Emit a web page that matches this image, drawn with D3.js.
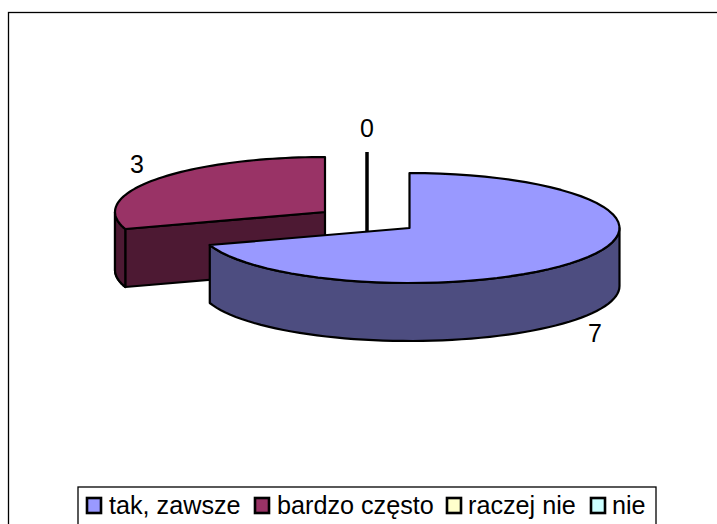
<!DOCTYPE html>
<html><head><meta charset="utf-8">
<style>html,body{margin:0;padding:0;background:#fff}svg{display:block}text{font-family:"Liberation Sans",Arial,sans-serif;fill:#000}</style>
<script src="https://cdn.jsdelivr.net/npm/d3@7"></script></head>
<body><svg id="c" width="717" height="524"></svg>
<script>
const categories = ["tak, zawsze","bardzo często","raczej nie","nie"];
const values = [7,3,0,0];
const topColors = ["#9999ff","#993366","#ffffcc","#ccffff"];
const sideColors = ["#4d4d80","#4d1933","#808066","#668080"];

const svg = d3.select("#c");
svg.append("rect").attr("x",8.5).attr("y",12.5).attr("width",720).attr("height",530).attr("fill","#fff").attr("stroke","#000").attr("stroke-width",1.3);

const rx=210, ry=55, depth=58;
const centers=[[409.5,228],[325,212],[367,207],[367,207]];
const pie=d3.pie().sort(null).value(d=>d)(values);
const sx=d3.scaleLinear().domain([0,1]).range([0,rx]);
const sy=d3.scaleLinear().domain([0,1]).range([0,ry]);
const pt=(c,a,dz=0)=>[c[0]+sx(Math.sin(a)),c[1]-sy(Math.cos(a))+dz];
const arcPts=(c,a0,a1,dz)=>d3.range(0,61).map(i=>pt(c,a0+(a1-a0)*i/60,dz));
const line=d3.line();

const g=svg.append("g").attr("stroke","#000").attr("stroke-width",2.2).attr("stroke-linejoin","round");
const order=[2,3,1,0];
order.forEach(i=>{
  const p=pie[i], c=centers[i];
  const a0=p.startAngle,a1=p.endAngle;
  if(a1-a0<1e-6){
    g.append("path").attr("d",line([[c[0],c[1]-ry],[c[0],c[1]+depth]])).attr("fill","none").attr("stroke-width",3);
    return;
  }
  const wa0=Math.max(a0,Math.PI/2), wa1=Math.min(a1,Math.PI*1.5);
  if(wa1>wa0){
    const top=arcPts(c,wa0,wa1,0), bot=arcPts(c,wa0,wa1,depth).reverse();
    g.append("path").attr("d",line(top.concat(bot))+"Z").attr("fill",sideColors[i]);
  }
  if(i===1){
    const ctr=[c[0],c[1]], rim=pt(c,a0,0);
    g.append("path").attr("d",line([ctr,rim,[rim[0],rim[1]+depth],[ctr[0],ctr[1]+depth]])+"Z").attr("fill",sideColors[i]).attr("stroke-width",2.2);
    const top=arcPts(c,a0,Math.PI*1.5,0), bot=arcPts(c,a0,Math.PI*1.5,depth).reverse();
    g.append("path").attr("d",line(top.concat(bot))+"Z").attr("fill",sideColors[i]);
  }
  const top=arcPts(c,a0,a1,0);
  g.append("path").attr("d",line([[c[0],c[1]],...top])+"Z").attr("fill",topColors[i]);
});

const labelPos=[[595,342],[137,173],[367,137]];
const labels=["7","3","0"];
labels.forEach((t,i)=>svg.append("text").attr("x",labelPos[i][0]).attr("y",labelPos[i][1]).attr("text-anchor","middle").attr("font-size",25).text(t));

const lg=svg.append("g");
lg.append("rect").attr("x",78).attr("y",487).attr("width",578).attr("height",50).attr("fill","#fff").attr("stroke","#000").attr("stroke-width",1.3);
const swatchX=[87,255,447,591];
const textX=[109,277,468,612];
categories.forEach((t,i)=>{
  lg.append("rect").attr("x",swatchX[i]).attr("y",498).attr("width",14).attr("height",15).attr("fill",topColors[i]).attr("stroke","#000").attr("stroke-width",2.6);
  lg.append("text").attr("x",textX[i]).attr("y",514).attr("font-size",25.2).text(t);
});
</script></body></html>
